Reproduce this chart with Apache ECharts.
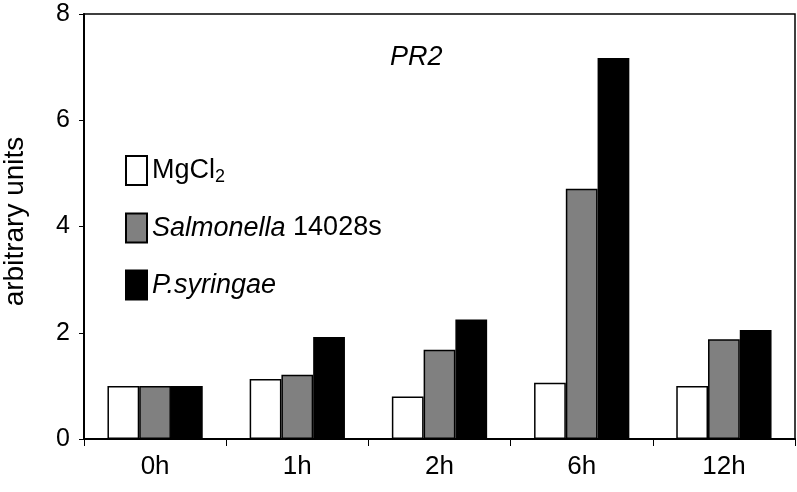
<!DOCTYPE html>
<html>
<head>
<meta charset="utf-8">
<script src="https://cdn.jsdelivr.net/npm/echarts@6/dist/echarts.min.js"></script>
<style>html,body{margin:0;padding:0;background:#fff}#c{width:797px;height:492px}</style>
</head>
<body>
<div id="c"></div>
<script>
var categories = ['0h', '1h', '2h', '6h', '12h'];
var seriesNames = ['MgCl2', 'Salmonella 14028s', 'P.syringae'];
var mgcl2 = [1.0, 1.13, 0.80, 1.06, 1.0];
var salmonella = [1.0, 1.21, 1.68, 4.71, 1.88];
var psyringae = [1.0, 1.92, 2.25, 7.17, 2.05];
var yTicks = [0, 2, 4, 6, 8];
var titleText = 'PR2';
var yAxisName = 'arbitrary units';

var FONT = 'Liberation Sans, Arial, sans-serif';
var chart = echarts.init(document.getElementById('c'), null, {renderer: 'canvas'});
var colors = ['#ffffff', '#808080', '#000000'];
var values = [mgcl2, salmonella, psyringae];

chart.setOption({
  animation: false,
  backgroundColor: '#fff',
  title: {
    text: titleText, left: 385, top: 39,
    textStyle: {fontFamily: FONT, fontSize: 27, fontStyle: 'italic', fontWeight: 'normal', color: '#000'}
  },
  legend: {
    orient: 'vertical', left: 120, top: 150,
    itemWidth: 21, itemHeight: 29, itemGap: 26,
    data: seriesNames.map(function (n) { return {name: n, icon: 'rect'}; }),
    formatter: function (n) {
      if (n === 'MgCl2') return '{n|MgCl}{sub|2}';
      if (n === 'Salmonella 14028s') return '{i|Salmonella} {n|14028s}';
      return '{i|P.syringae}';
    },
    textStyle: {
      fontFamily: FONT, fontSize: 27, color: '#000',
      rich: {
        n: {fontFamily: FONT, fontSize: 27, color: '#000'},
        i: {fontFamily: FONT, fontSize: 27, fontStyle: 'italic', color: '#000'},
        sub: {fontFamily: FONT, fontSize: 18, color: '#000', verticalAlign: 'bottom', padding: [14, 0, 0, 0]}
      }
    }
  },
  grid: {left: 84, right: 2, top: 14, bottom: 53, show: true, borderColor: '#000', borderWidth: 1.5,
    backgroundColor: 'transparent', containLabel: false, outerBoundsMode: 'none'},
  xAxis: {
    type: 'category', data: categories,
    axisLine: {lineStyle: {color: '#000', width: 2}},
    axisTick: {show: true, length: 7, inside: false, alignWithLabel: false, lineStyle: {color: '#000', width: 1}},
    axisLabel: {fontFamily: FONT, fontSize: 26, color: '#000', margin: 15}
  },
  yAxis: {
    type: 'value', min: 0, max: 8, interval: 2,
    name: yAxisName, nameLocation: 'middle', nameGap: 55, nameRotate: 90,
    nameTextStyle: {fontFamily: FONT, fontSize: 28, color: '#000', padding: [0, 0, 0, 10]},
    axisLine: {show: true, lineStyle: {color: '#000', width: 2}},
    axisTick: {show: true, length: 5, lineStyle: {color: '#000', width: 1}},
    splitLine: {show: false},
    axisLabel: {fontFamily: FONT, fontSize: 25, color: '#000', margin: 14,
      formatter: function (v) { return yTicks.indexOf(v) >= 0 ? String(v) : ''; }}
  },
  series: seriesNames.map(function (n, i) {
    return {
      name: n, type: 'bar', data: values[i],
      barGap: '0%', barCategoryGap: '33%',
      itemStyle: {color: colors[i], borderColor: '#000', borderWidth: 1.5}
    };
  })
});
</script>
</body>
</html>
